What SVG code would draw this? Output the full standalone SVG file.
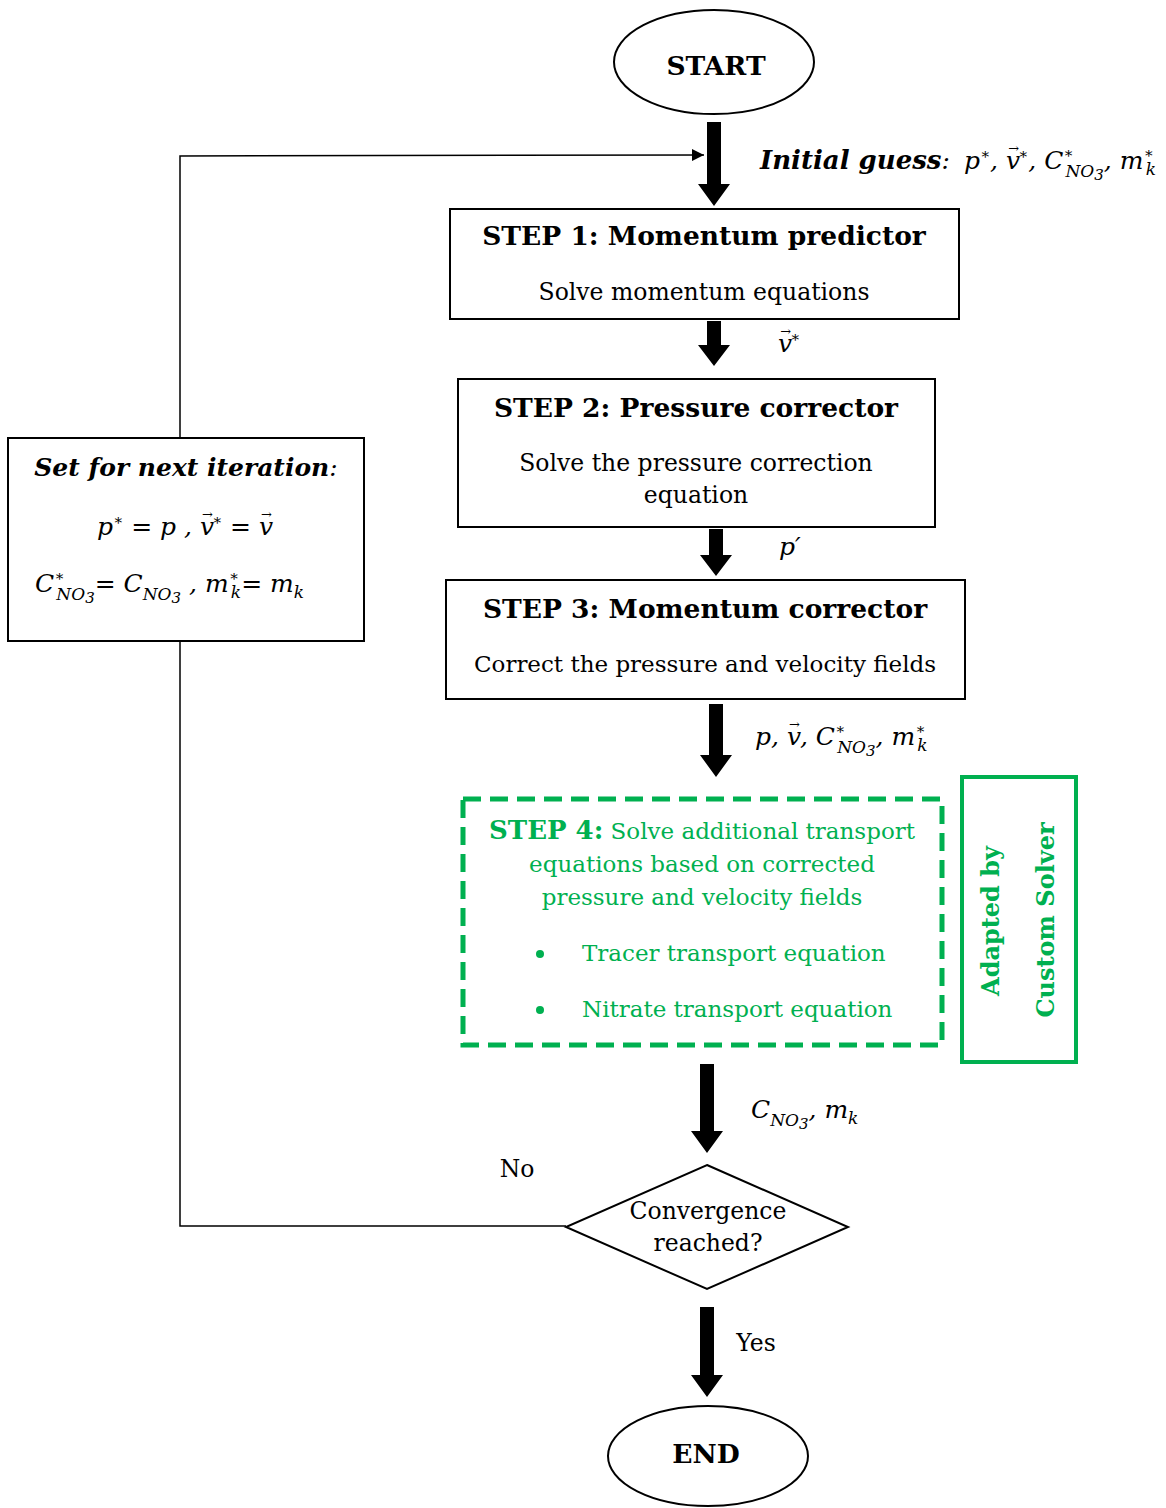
<svg xmlns="http://www.w3.org/2000/svg" width="1166" height="1508" viewBox="0 0 1166 1508">
<style>
.box{fill:#fff;stroke:#000;stroke-width:2}
.ln{fill:none;stroke:#000;stroke-width:1.5}
.t{font-family:"DejaVu Serif","Liberation Serif",serif;font-size:23.5px;fill:#000;text-anchor:middle}
.t3{font-size:23px}
.tb{font-family:"DejaVu Serif","Liberation Serif",serif;font-size:26.5px;font-weight:bold;fill:#000;text-anchor:middle}
.m{font-family:"DejaVu Serif","Liberation Serif",serif;font-size:25px;font-style:italic;fill:#000}
.g{font-family:"DejaVu Serif","Liberation Serif",serif;font-size:23px;fill:#00B050;text-anchor:middle}
.gl{font-family:"DejaVu Serif","Liberation Serif",serif;font-size:23px;fill:#00B050;text-anchor:start}
.gr{font-family:"DejaVu Serif","Liberation Serif",serif;font-size:24px;font-weight:bold;fill:#00B050;text-anchor:middle}
.gb{font-weight:bold}
.sup{font-size:15px}
.sub{font-size:17px}
.vec{font-size:13px;font-style:normal}
.arr{fill:#000}
</style>
<defs>
<marker id="ah" viewBox="0 0 10 10" refX="10" refY="5" markerWidth="14" markerHeight="12" markerUnits="userSpaceOnUse" orient="auto">
<path d="M0,0 L10,5 L0,10 z" fill="#000"/>
</marker>
</defs>
<g id="connectors">
<polyline class="ln" points="566,1226 180,1226 180,641"/>
<polyline class="ln" points="180,438 180,156 704,155" marker-end="url(#ah)"/>
<path class="arr" d="M707,122 h14 v62 h9 l-16,22 l-16,-22 h9 z"/>
<path class="arr" d="M707,321 h14 v24 h9 l-16,21 l-16,-21 h9 z"/>
<path class="arr" d="M709,529 h14 v26 h9 l-16,21 l-16,-21 h9 z"/>
<path class="arr" d="M709,704 h14 v51 h9 l-16,22 l-16,-22 h9 z"/>
<path class="arr" d="M700,1064 h14 v67 h9 l-16,22 l-16,-22 h9 z"/>
<path class="arr" d="M700,1307 h14 v68 h9 l-16,22 l-16,-22 h9 z"/>
</g>
<g id="start">
<ellipse class="box" cx="714" cy="62" rx="100" ry="52"/>
<text class="tb" x="716" y="75">START</text>
</g>
<g id="initial-guess">
<text class="m" x="760" y="169"><tspan font-weight="bold" font-size="26px">Initial guess</tspan>: <tspan dx="6">p</tspan><tspan class="sup" y="159">∗</tspan><tspan y="169">, v</tspan><tspan class="vec" dx="-12" y="153">→</tspan><tspan class="sup" dx="-1" y="159">∗</tspan><tspan y="169">, C</tspan><tspan class="sup" y="158">∗</tspan><tspan class="sub" dx="-8" y="177">NO</tspan><tspan class="sup" y="180">3</tspan><tspan y="169">, m</tspan><tspan class="sup" y="158">∗</tspan><tspan class="sub" dx="-8" y="175">k</tspan></text>
</g>
<g id="step1">
<rect class="box" x="450" y="209" width="509" height="110"/>
<text class="tb" x="704" y="245">STEP 1: Momentum predictor</text>
<text class="t" x="704" y="300">Solve momentum equations</text>
</g>
<text class="m" x="778" y="352">v<tspan class="vec" dx="-12" y="336">→</tspan><tspan class="sup" dx="-1" y="342">∗</tspan></text>
<g id="step2">
<rect class="box" x="458" y="379" width="477" height="148"/>
<text class="tb" x="696" y="417">STEP 2: Pressure corrector</text>
<text class="t" x="696" y="471">Solve the pressure correction</text>
<text class="t" x="696" y="503">equation</text>
</g>
<text class="m" x="779" y="555">p′</text>
<g id="step3">
<rect class="box" x="446" y="580" width="519" height="119"/>
<text class="tb" x="705" y="618">STEP 3: Momentum corrector</text>
<text class="t t3" x="705" y="672">Correct the pressure and velocity fields</text>
</g>
<text class="m" x="755" y="745">p, v<tspan class="vec" dx="-12" y="729">→</tspan><tspan y="745">, C</tspan><tspan class="sup" y="734">∗</tspan><tspan class="sub" dx="-8" y="753">NO</tspan><tspan class="sup" y="756">3</tspan><tspan y="745">, m</tspan><tspan class="sup" y="734">∗</tspan><tspan class="sub" dx="-8" y="751">k</tspan></text>
<g id="step4">
<rect x="463" y="799" width="479" height="246" fill="#fff" stroke="#00B050" stroke-width="5" stroke-dasharray="18,9"/>
<text class="g" x="702" y="839"><tspan class="gb" font-size="26px">STEP 4:</tspan> Solve additional transport</text>
<text class="g" x="702" y="872">equations based on corrected</text>
<text class="g" x="702" y="905">pressure and velocity fields</text>
<circle cx="540" cy="954" r="4" fill="#00B050"/>
<text class="gl" x="582" y="961">Tracer transport equation</text>
<circle cx="540" cy="1010" r="4" fill="#00B050"/>
<text class="gl" x="582" y="1017">Nitrate transport equation</text>
</g>
<g id="custom-solver">
<rect x="962" y="777" width="114" height="285" fill="#fff" stroke="#00B050" stroke-width="4"/>
<text class="gr" transform="translate(999,921) rotate(-90)">Adapted by</text>
<text class="gr" transform="translate(1054,920) rotate(-90)">Custom Solver</text>
</g>
<text class="m" x="751" y="1118">C<tspan class="sub" y="1126">NO</tspan><tspan class="sup" y="1129">3</tspan><tspan y="1118">, m</tspan><tspan class="sub" y="1124">k</tspan></text>
<g id="set-next">
<rect class="box" x="8" y="438" width="356" height="203"/>
<text class="m" x="186" y="476" text-anchor="middle"><tspan font-weight="bold">Set for next iteration</tspan>:</text>
<text class="m" x="97" y="535">p<tspan class="sup" y="525">∗</tspan><tspan y="535"> = p , v</tspan><tspan class="vec" dx="-12" y="519">→</tspan><tspan class="sup" dx="-1" y="525">∗</tspan><tspan y="535"> = v</tspan><tspan class="vec" dx="-12" y="519">→</tspan></text>
<text class="m" x="35" y="592">C<tspan class="sup" y="581">∗</tspan><tspan class="sub" dx="-8" y="600">NO</tspan><tspan class="sup" y="603">3</tspan><tspan y="592">= C</tspan><tspan class="sub" y="600">NO</tspan><tspan class="sup" y="603">3</tspan><tspan y="592"> , m</tspan><tspan class="sup" y="581">∗</tspan><tspan class="sub" dx="-8" y="598">k</tspan><tspan y="592">= m</tspan><tspan class="sub" y="598">k</tspan></text>
</g>
<g id="convergence">
<polygon class="box" points="707,1165 848,1227 707,1289 566,1227"/>
<text class="t" x="708" y="1219">Convergence</text>
<text class="t" x="708" y="1251">reached?</text>
</g>
<text class="t" x="517" y="1177">No</text>
<text class="t" x="756" y="1351">Yes</text>
<g id="end">
<ellipse class="box" cx="708" cy="1456" rx="100" ry="50"/>
<text class="tb" x="706" y="1463">END</text>
</g>
</svg>
